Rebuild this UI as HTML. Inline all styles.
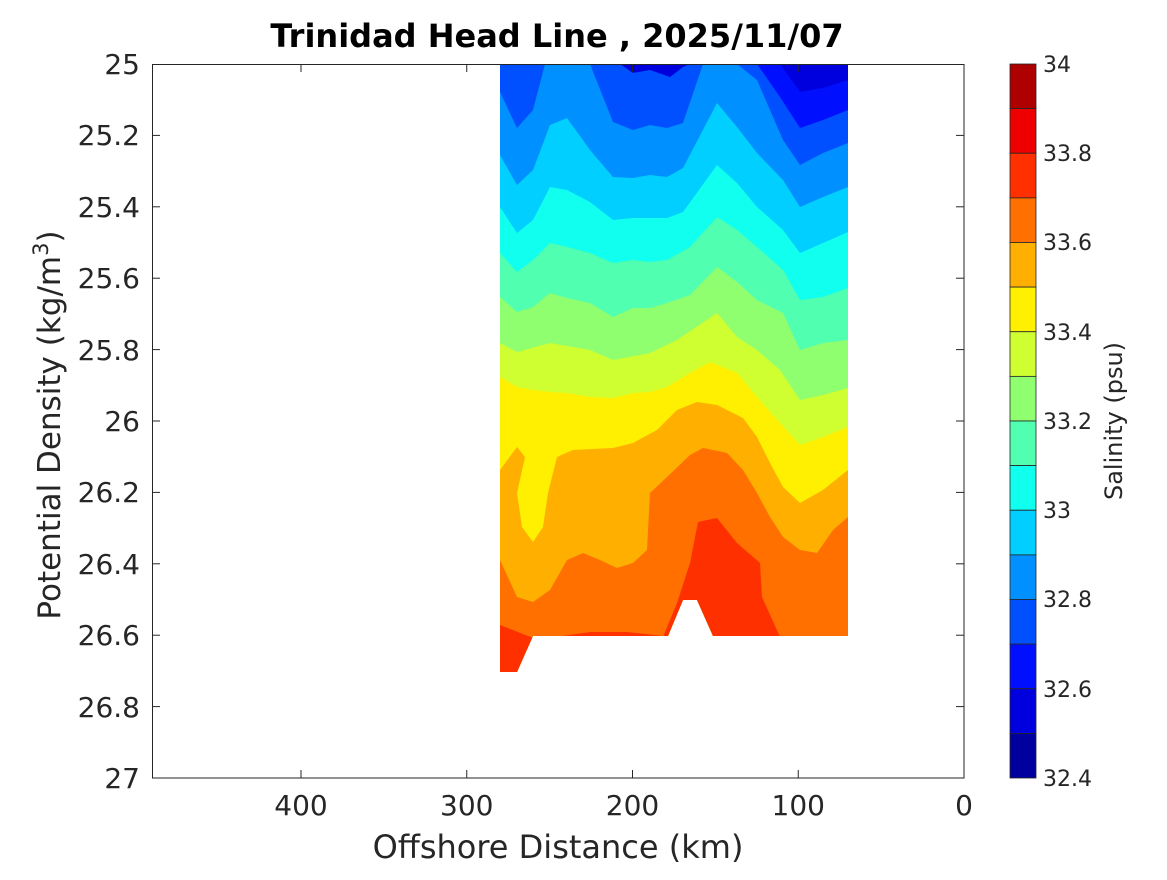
<!DOCTYPE html>
<html><head><meta charset="utf-8"><style>
body{margin:0;background:#fff}
svg text{font-family:"DejaVu Sans","Liberation Sans",sans-serif;fill:#262626}
</style></head><body>
<svg width="1167" height="875" viewBox="0 0 1167 875" xmlns="http://www.w3.org/2000/svg">
<defs>
<clipPath id="dc"><polygon points="500,64 848,64 848,636 713,636 697,600 683,600 668,636 533,636 517,672 500,672"/></clipPath>
</defs>
<g clip-path="url(#dc)">
<rect x="495" y="60" width="360" height="620" fill="#0050FF"/>
<polygon fill="#0090FF" points="500,92 517,128 533,110 545,64 590,64 613,122 633,130 650,125 667,128 683,123 703,64 737,64 757,80 783,140 800,165 823,153 848,143 848,700 500,700"/>
<polygon fill="#00CFFF" points="500,155 517,185 533,170 550,125 567,118 590,150 613,177 633,178 650,175 667,177 683,168 717,103 737,127 757,153 783,180 800,207 823,197 848,187 848,700 500,700"/>
<polygon fill="#10FFEF" points="500,207 517,233 533,220 550,187 567,190 590,202 613,220 633,218 650,218 667,218 683,212 717,165 737,183 757,207 783,230 800,253 823,243 848,232 848,700 500,700"/>
<polygon fill="#50FFAF" points="500,253 517,272 533,260 550,243 567,247 590,253 613,263 633,260 650,262 667,260 690,247 717,217 737,230 757,247 783,270 800,300 823,297 848,288 848,700 500,700"/>
<polygon fill="#8FFF70" points="500,297 517,312 533,307 550,293 567,298 590,303 613,317 633,308 650,308 667,303 690,295 717,267 737,282 757,300 783,313 800,350 823,343 848,340 848,700 500,700"/>
<polygon fill="#CFFF30" points="500,343 517,352 550,343 590,350 613,360 650,353 677,340 717,313 737,337 757,350 780,370 800,400 823,395 848,388 848,700 500,700"/>
<polygon fill="#FFEF00" points="500,377 517,387 533,390 550,392 567,393 590,397 613,398 633,393 650,392 667,387 690,373 710,362 737,373 757,397 780,423 800,445 823,437 848,427 848,700 500,700"/>
<polygon fill="#FFAF00" points="500,470 517,447 525,457 517,493 522,527 533,542 543,527 548,493 557,457 573,450 613,448 633,443 657,430 677,410 697,402 717,405 743,418 757,437 770,463 783,487 800,503 823,490 848,470 848,700 500,700"/>
<polygon fill="#FF7000" points="500,560 517,597 533,602 550,590 567,560 583,553 600,560 617,568 633,563 647,550 650,493 667,477 690,455 703,448 727,453 743,470 757,493 770,517 783,537 800,550 817,553 833,530 848,517 848,700 500,700"/>
<polygon fill="#FF3000" points="500,625 533,638 533,700 500,700"/>
<polygon fill="#FF3000" points="563,636 590,632 627,632 663,636"/>
<polygon fill="#FF3000" points="663,637 677,603 690,563 698,522 717,518 737,543 760,563 762,597 780,637"/>
<polygon fill="#0010FF" points="757,64 780,97 800,128 823,120 848,110 848,64"/>
<polygon fill="#0000DF" points="780,64 800,92 823,88 848,80 848,64"/>
<polygon fill="#0000DF" points="620,64 633,73 650,70 670,77 683,67 690,64"/>
</g>
<rect x="152.5" y="64.5" width="811.5" height="713.5" fill="none" stroke="#262626" stroke-width="1"/>
<g stroke="#262626" stroke-width="1">
<line x1="301" y1="778" x2="301" y2="770"/><line x1="301" y1="64" x2="301" y2="72"/>
<line x1="466.75" y1="778" x2="466.75" y2="770"/><line x1="466.75" y1="64" x2="466.75" y2="72"/>
<line x1="632.5" y1="778" x2="632.5" y2="770"/><line x1="632.5" y1="64" x2="632.5" y2="72"/>
<line x1="798.25" y1="778" x2="798.25" y2="770"/><line x1="798.25" y1="64" x2="798.25" y2="72"/>
<line x1="152" y1="135.4" x2="160" y2="135.4"/><line x1="964" y1="135.4" x2="956" y2="135.4"/>
<line x1="152" y1="206.8" x2="160" y2="206.8"/><line x1="964" y1="206.8" x2="956" y2="206.8"/>
<line x1="152" y1="278.2" x2="160" y2="278.2"/><line x1="964" y1="278.2" x2="956" y2="278.2"/>
<line x1="152" y1="349.6" x2="160" y2="349.6"/><line x1="964" y1="349.6" x2="956" y2="349.6"/>
<line x1="152" y1="421" x2="160" y2="421"/><line x1="964" y1="421" x2="956" y2="421"/>
<line x1="152" y1="492.4" x2="160" y2="492.4"/><line x1="964" y1="492.4" x2="956" y2="492.4"/>
<line x1="152" y1="563.8" x2="160" y2="563.8"/><line x1="964" y1="563.8" x2="956" y2="563.8"/>
<line x1="152" y1="635.2" x2="160" y2="635.2"/><line x1="964" y1="635.2" x2="956" y2="635.2"/>
<line x1="152" y1="706.6" x2="160" y2="706.6"/><line x1="964" y1="706.6" x2="956" y2="706.6"/>
</g>
<g font-size="28" text-anchor="end">
<text x="140" y="74">25</text><text x="140" y="145">25.2</text><text x="140" y="217">25.4</text>
<text x="140" y="288">25.6</text><text x="140" y="360">25.8</text><text x="140" y="431">26</text>
<text x="140" y="502">26.2</text><text x="140" y="574">26.4</text><text x="140" y="645">26.6</text>
<text x="140" y="717">26.8</text><text x="140" y="788">27</text>
</g>
<g font-size="28" text-anchor="middle">
<text x="301" y="815">400</text><text x="466.75" y="815">300</text><text x="632.5" y="815">200</text>
<text x="798.25" y="815">100</text><text x="964" y="815">0</text>
</g>
<text x="558" y="858" font-size="32" text-anchor="middle">Offshore Distance (km)</text>
<text transform="translate(60,425) rotate(-90)" font-size="31" text-anchor="middle">Potential Density (kg/m<tspan font-size="21" dy="-12">3</tspan><tspan dy="12">)</tspan></text>
<text x="557" y="47" font-size="32" font-weight="bold" text-anchor="middle" style="fill:#000">Trinidad Head Line , 2025/11/07</text>
<g stroke="#262626" stroke-width="0.8">
<rect x="1010" y="64" width="26" height="44.6" fill="#AF0000"/>
<rect x="1010" y="108.6" width="26" height="44.6" fill="#EF0000"/>
<rect x="1010" y="153.25" width="26" height="44.6" fill="#FF3000"/>
<rect x="1010" y="197.9" width="26" height="44.6" fill="#FF7000"/>
<rect x="1010" y="242.5" width="26" height="44.6" fill="#FFAF00"/>
<rect x="1010" y="287.1" width="26" height="44.6" fill="#FFEF00"/>
<rect x="1010" y="331.75" width="26" height="44.6" fill="#CFFF30"/>
<rect x="1010" y="376.4" width="26" height="44.6" fill="#8FFF70"/>
<rect x="1010" y="421" width="26" height="44.6" fill="#50FFAF"/>
<rect x="1010" y="465.6" width="26" height="44.6" fill="#10FFEF"/>
<rect x="1010" y="510.25" width="26" height="44.6" fill="#00CFFF"/>
<rect x="1010" y="554.9" width="26" height="44.6" fill="#0090FF"/>
<rect x="1010" y="599.5" width="26" height="44.6" fill="#0050FF"/>
<rect x="1010" y="644.1" width="26" height="44.6" fill="#0010FF"/>
<rect x="1010" y="688.75" width="26" height="44.6" fill="#0000DF"/>
<rect x="1010" y="733.4" width="26" height="44.6" fill="#00009F"/>
</g>
<g font-size="22">
<text x="1043" y="72">34</text><text x="1043" y="161">33.8</text><text x="1043" y="250">33.6</text>
<text x="1043" y="340">33.4</text><text x="1043" y="429">33.2</text><text x="1043" y="518">33</text>
<text x="1043" y="607">32.8</text><text x="1043" y="697">32.6</text><text x="1043" y="786">32.4</text>
</g>
<text transform="translate(1122,421) rotate(-90)" font-size="24" text-anchor="middle">Salinity (psu)</text>
</svg>
</body></html>
